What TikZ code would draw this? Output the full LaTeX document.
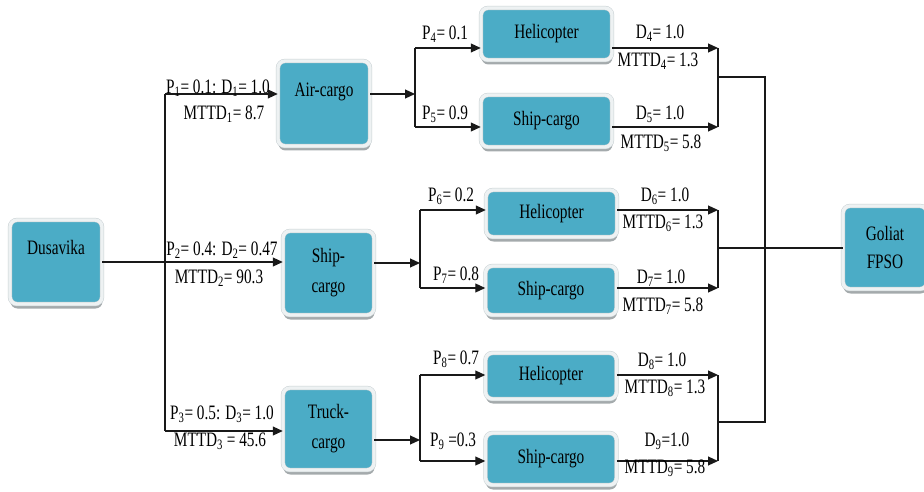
\documentclass[tikz,border=0pt]{standalone}
\usepackage{fontspec}
\setmainfont{Liberation Serif}[FakeStretch=0.745]
\usetikzlibrary{arrows.meta,shadows}
\definecolor{teal1}{HTML}{4BACC6}
\definecolor{boxedge}{HTML}{EEF2F3}
\definecolor{boxline}{HTML}{C8D0D3}
\definecolor{shadowgray}{HTML}{A4AAAC}
\newcommand{\sbs}[1]{\textsubscript{#1}}
\begin{document}
\begin{tikzpicture}[x=1pt,y=-1pt,
  box/.style={draw=boxline, line width=0.5pt, double=boxedge, double distance=3.4pt,
    fill=teal1, rounded corners=7pt, inner sep=0pt, align=center,
    font=\fontsize{20.5}{30}\selectfont,
    drop shadow={shadow xshift=0.5pt, shadow yshift=-4.5pt, fill=shadowgray, opacity=1}},
  lbl/.style={inner sep=0pt, font=\fontsize{20.5}{22}\selectfont},
  ln/.style={line width=1.1pt, draw=black!90},
  arr/.style={ln, -{Triangle[length=10pt,width=9pt]}}
]
\useasboundingbox (0,0) rectangle (924,492);

% boxes
\node[box, minimum width=92pt, minimum height=84pt, text height=14pt, text depth=29pt] (dus) at (56,262) {Dusavika};
\node[box, minimum width=92pt, minimum height=85pt, text height=14pt, text depth=28pt] (air) at (324,103.5) {Air-cargo};
\node[box, minimum width=91pt, minimum height=84pt] (ship) at (328.5,273) {Ship-\\cargo};
\node[box, minimum width=91pt, minimum height=82pt] (truck) at (328.5,429) {Truck-\\cargo};
\node[box, minimum width=131pt, minimum height=52pt] (h1) at (546.5,34) {Helicopter};
\node[box, minimum width=131pt, minimum height=52pt] (s1) at (546.5,121) {Ship-cargo};
\node[box, minimum width=131pt, minimum height=47pt] (h2) at (551.5,213.5) {Helicopter};
\node[box, minimum width=131pt, minimum height=49pt] (s2) at (551,290.5) {Ship-cargo};
\node[box, minimum width=131pt, minimum height=46pt] (h3) at (551,376) {Helicopter};
\node[box, minimum width=131pt, minimum height=52pt] (s3) at (551,459) {Ship-cargo};
\node[box, minimum width=84pt, minimum height=83pt, font=\fontsize{20.5}{28}\selectfont] (goliat) at (885,247.5) {Goliat\\FPSO};

% first split
\coordinate (j1t) at (165,94);
\coordinate (j1b) at (165,431);
\draw[ln] (j1t) -- (j1b);
\draw[arr] (j1t) -- (j1t -| air.west);
\draw[arr] (j1b) -- (j1b -| truck.west);
\draw[arr] (dus.east) -- (dus.east -| ship.west);

% air-cargo split
\coordinate (j2) at (415,94);
\coordinate (j2t) at (415,48);
\coordinate (j2b) at (415,127);
\draw[arr] (air.east |- j2) -- (j2);
\draw[ln] (j2t) -- (j2b);
\draw[arr] (j2t) -- (j2t -| h1.west);
\draw[arr] (j2b) -- (j2b -| s1.west);

% ship-cargo split
\coordinate (j3) at (420,263);
\coordinate (j3t) at (420,210);
\coordinate (j3b) at (420,288);
\draw[arr] (ship.east |- j3) -- (j3);
\draw[ln] (j3t) -- (j3b);
\draw[arr] (j3t) -- (j3t -| h2.west);
\draw[arr] (j3b) -- (j3b -| s2.west);

% truck-cargo split
\coordinate (j4) at (420,440);
\coordinate (j4t) at (420,375);
\coordinate (j4b) at (420,461);
\draw[arr] (truck.east |- j4) -- (j4);
\draw[ln] (j4t) -- (j4b);
\draw[arr] (j4t) -- (j4t -| h3.west);
\draw[arr] (j4b) -- (j4b -| s3.west);

% outputs
\coordinate (k1t) at (718,48);
\coordinate (k1b) at (718,127);
\coordinate (k1m) at (718,77);
\coordinate (k2t) at (718,210);
\coordinate (k2b) at (718,288);
\coordinate (k2m) at (718,248);
\coordinate (k3t) at (718,375);
\coordinate (k3b) at (718,461);
\coordinate (k3m) at (718,422);
\coordinate (v1) at (765,77);
\coordinate (v2) at (765,422);
\draw[arr] (h1.east |- k1t) -- (k1t);
\draw[arr] (s1.east |- k1b) -- (k1b);
\draw[ln] (k1t) -- (k1b);
\draw[arr] (h2.east |- k2t) -- (k2t);
\draw[arr] (s2.east |- k2b) -- (k2b);
\draw[ln] (k2t) -- (k2b);
\draw[arr] (h3.east |- k3t) -- (k3t);
\draw[arr] (s3.east |- k3b) -- (k3b);
\draw[ln] (k3t) -- (k3b);
\draw[ln] (k1m) -- (v1) -- (v2) -- (k3m);
\draw[ln] (k2m) -- (goliat.west |- k2m);

% labels first stage
\node[lbl] (l1a) at (218,88) {P\sbs{1}= 0.1: D\sbs{1}= 1.0};
\node[lbl] (l1b) at (224,114) {MTTD\sbs{1}= 8.7};
\node[lbl] (l2a) at (222,250) {P\sbs{2}= 0.4: D\sbs{2}= 0.47};
\node[lbl] (l2b) at (219,278) {MTTD\sbs{2}= 90.3};
\node[lbl] (l3a) at (222,414) {P\sbs{3}= 0.5: D\sbs{3}= 1.0};
\node[lbl] (l3b) at (220,441) {MTTD\sbs{3} = 45.6};

% labels second stage
\node[lbl, anchor=west] (p4) at (422,34) {P\sbs{4}= 0.1};
\node[lbl, anchor=west] (p5) at (422,114) {P\sbs{5}= 0.9};
\node[lbl, anchor=west] (p6) at (428,196) {P\sbs{6}= 0.2};
\node[lbl, anchor=west] (p7) at (433,275) {P\sbs{7}= 0.8};
\node[lbl, anchor=west] (p8) at (433,359) {P\sbs{8}= 0.7};
\node[lbl, anchor=west] (p9) at (430,441) {P\sbs{9} =0.3};

% labels third stage
\node[lbl] (d4) at (660,33) {D\sbs{4}= 1.0};
\node[lbl] (m4) at (658,61) {MTTD\sbs{4}= 1.3};
\node[lbl] (d5) at (660,114) {D\sbs{5}= 1.0};
\node[lbl] (m5) at (661,143) {MTTD\sbs{5}= 5.8};
\node[lbl] (d6) at (665,196) {D\sbs{6}= 1.0};
\node[lbl] (m6) at (663,223) {MTTD\sbs{6}= 1.3};
\node[lbl] (d7) at (661,278) {D\sbs{7}= 1.0};
\node[lbl] (m7) at (663,306) {MTTD\sbs{7}= 5.8};
\node[lbl] (d8) at (662,361) {D\sbs{8}= 1.0};
\node[lbl] (m8) at (665,388) {MTTD\sbs{8}= 1.3};
\node[lbl] (d9) at (667,441) {D\sbs{9}=1.0};
\node[lbl] (m9) at (665,468) {MTTD\sbs{9}= 5.8};
\end{tikzpicture}
\end{document}
